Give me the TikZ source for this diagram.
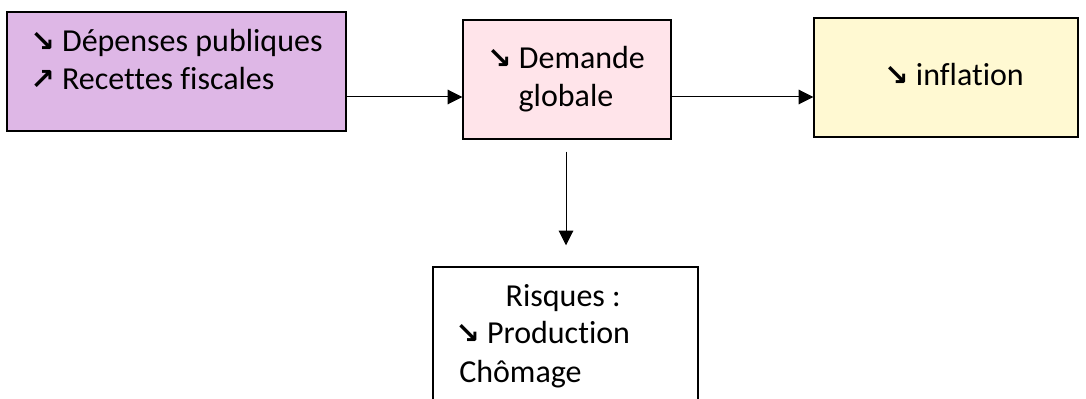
\documentclass[tikz,border=0pt]{standalone}
\usepackage{fontspec}
\setmainfont[Ligatures={NoCommon}]{Carlito}
\newfontfamily\symfont{DejaVu Sans}
\usetikzlibrary{arrows.meta}
\newcommand\arrdn{{\symfont\bfseries\fontsize{22}{22}\selectfont ↘}}
\newcommand\arrup{{\symfont\bfseries\fontsize{22}{22}\selectfont ↗}}
\begin{document}
\begin{tikzpicture}[x=0.75pt,y=-0.75pt,
  box/.style={draw=black, line width=1.1pt, minimum width=#1, inner sep=0pt},
  txt/.style={font=\fontsize{24}{28.5}\selectfont, inner sep=0pt},
  arr/.style={line width=0.75pt, -{Triangle[length=11pt,width=11pt]}}]
\useasboundingbox (0,0) rectangle (1086,399);
\clip (0,0) rectangle (1086,399);
\fill[white] (0,0) rectangle (1086,399);
\definecolor{lav}{HTML}{DEB7E6}
\definecolor{pinkb}{HTML}{FFE4EA}
\definecolor{yelb}{HTML}{FFF9D2}
\node[box=254.25pt, minimum height=89.25pt, fill=lav] (b1) at (176.5,71.5) {};
\node[box=156pt, minimum height=89.25pt, fill=pinkb] (b2) at (567,79.5) {};
\node[box=198pt, minimum height=89.25pt, fill=yelb] (b3) at (946,77.5) {};
\node[box=198.75pt, minimum height=114.75pt, fill=white] (b4) at (565.5,343.5) {};
\node[txt, anchor=base west, align=left] (t1) at (30,90) {\arrdn\ Dépenses publiques\\\arrup\ Recettes fiscales};
\node[txt, anchor=base, align=center] (t2) at (566,107) {\arrdn\ Demande\\globale};
\node[txt, anchor=base] (t3) at (954,86) {\arrdn\ inflation};
\node[txt, anchor=base west, align=left] (t4) at (455,382) {\makebox[162pt][c]{Risques :}\\\arrdn\ Production\\\hspace*{3pt}Chômage};
\coordinate (ay) at (0,97);
\draw[arr] (b1.east |- ay) -- (b2.west |- ay);
\draw[arr] (b2.east |- ay) -- (b3.west |- ay);
\draw[arr, shorten <=9pt, shorten >=15.75pt] ([xshift=-0.75pt]b2.south) -- ([xshift=-0.75pt]b2.south |- b4.north);
\end{tikzpicture}
\end{document}
